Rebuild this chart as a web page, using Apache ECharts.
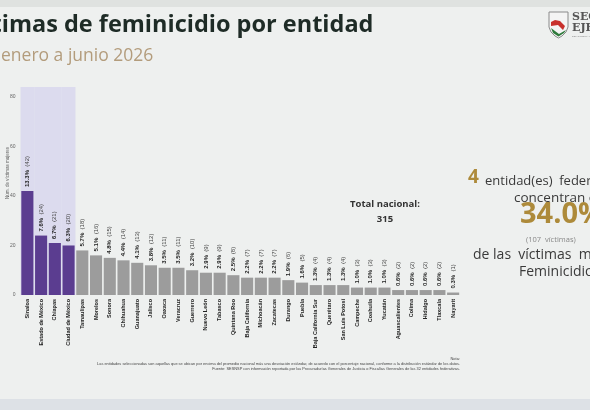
<!DOCTYPE html>
<html><head><meta charset="utf-8">
<script src="https://cdn.jsdelivr.net/npm/echarts@6/dist/echarts.min.js"></script>
<style>html,body{margin:0;padding:0;background:#eef0ef}#c{width:590px;height:410px}</style>
</head><body><div id="c"></div>
<script>
const categories = ['Sinaloa','Estado de México','Chiapas','Ciudad de México','Tamaulipas','Morelos','Sonora','Chihuahua','Guanajuato','Jalisco','Oaxaca','Veracruz','Guerrero','Nuevo León','Tabasco','Quintana Roo','Baja California','Michoacán','Zacatecas','Durango','Puebla','Baja California Sur','Querétaro','San Luis Potosí','Campeche','Coahuila','Yucatán','Aguascalientes','Colima','Hidalgo','Tlaxcala','Nayarit'];
const victims = [42,24,21,20,18,16,15,14,13,12,11,11,10,9,9,8,7,7,7,6,5,4,4,4,3,3,3,2,2,2,2,1];
const percents = ['13.3%','7.6%','6.7%','6.3%','5.7%','5.1%','4.8%','4.4%','4.1%','3.8%','3.5%','3.5%','3.2%','2.9%','2.9%','2.5%','2.2%','2.2%','2.2%','1.9%','1.6%','1.3%','1.3%','1.3%','1.0%','1.0%','1.0%','0.6%','0.6%','0.6%','0.6%','0.3%'];
const highlighted = ['Sinaloa','Estado de México','Chiapas','Ciudad de México'];
const yTicks = [0,20,40,60,80];
const yMax = 84;
const totalNacional = 315;

const chart = echarts.init(document.getElementById('c'), null, {renderer:'canvas'});
const purple = '#5b3d90', gray = '#9c9c9c';
const barData = victims.map((v,i)=>({value:v, itemStyle:{color: highlighted.includes(categories[i]) ? purple : gray}}));
const bgData = categories.map(c => highlighted.includes(c) ? yMax : null);

chart.setOption({
  backgroundColor:'#eef0ef',
  animation:false,
  grid:{left:20.5, right:130, top:87, bottom:115},
  xAxis:[{
    type:'category', data:categories,
    axisLine:{show:false}, axisTick:{show:false},
    axisLabel:{rotate:90, interval:0, fontSize:5.5, fontWeight:'bold', color:'#222', margin:4, fontFamily:'Liberation Sans'}
  },{
    type:'category', data:categories, show:false
  }],
  yAxis:{
    type:'value', min:0, max:yMax, interval:20,
    splitLine:{show:false}, axisLine:{show:false}, axisTick:{show:false},
    axisLabel:{fontSize:5, color:'#666', margin:5, showMaxLabel:false,
      formatter: v => yTicks.includes(v) ? String(v) : ''}
  },
  series:[{
    type:'bar', xAxisIndex:1, data:bgData, barWidth:'101%', silent:true, z:1,
    itemStyle:{color:'#dcdbee'}
  },{
    type:'bar', data:barData, barCategoryGap:'12%', z:3,
    label:{show:true, position:'top', rotate:90, align:'left', verticalAlign:'middle', distance:4,
      formatter: p => '{b|' + percents[p.dataIndex] + '} {n|(' + victims[p.dataIndex] + ')}',
      rich:{b:{fontSize:6, fontWeight:'bold', color:'#222', fontFamily:'Liberation Sans'}, n:{fontSize:6, color:'#444', fontFamily:'Liberation Sans'}}}
  }],
  graphic:[
    {type:'rect', shape:{x:0,y:0,width:590,height:7}, style:{fill:'#dfe2e0'}, z:-1},
    {type:'rect', shape:{x:0,y:399,width:590,height:11}, style:{fill:'#dde1e6'}, z:-1},
    {type:'text', x:-43, y:25, style:{text:'Víctimas de feminicidio por entidad', font:'bold 23.5px "Open Sans"', fill:'#1e2b26', verticalAlign:'middle'}},
    {type:'text', x:1, y:56, style:{text:'enero a junio 2026', font:'17.5px "Open Sans"', fill:'#b39c7c', verticalAlign:'middle'}},
    {type:'text', x:8, y:173, rotation:Math.PI/2, style:{text:'Núm. de víctimas mujeres', font:'4.5px "Liberation Sans"', fill:'#666', align:'center', verticalAlign:'middle'}},
    {type:'text', x:385, y:204, style:{text:'Total nacional:', font:'bold 9.5px "Open Sans"', fill:'#333', align:'center', verticalAlign:'middle'}},
    {type:'text', x:385, y:219, style:{text:String(totalNacional), font:'bold 9.5px "Open Sans"', fill:'#333', align:'center', verticalAlign:'middle'}},
    {type:'text', x:468, y:178, style:{text:String(highlighted.length), font:'bold 19px "Open Sans"', fill:'#ad8a3a', verticalAlign:'middle'}},
    {type:'text', x:485, y:181, style:{text:'entidad(es)  federativas', font:'13px "Open Sans"', fill:'#3a3a3a', verticalAlign:'middle'}},
    {type:'text', x:514, y:198, style:{text:'concentran el', font:'13.5px "Open Sans"', fill:'#3a3a3a', verticalAlign:'middle'}},
    {type:'text', x:520, y:215, style:{text:'34.0%', font:'bold 29px "Open Sans"', fill:'#ad8a3a', verticalAlign:'middle'}},
    {type:'text', x:526, y:240, style:{text:'(107  víctimas)', font:'7.5px "Open Sans"', fill:'#888', verticalAlign:'middle'}},
    {type:'text', x:473, y:255, style:{text:'de las  víctimas  mujeres de', font:'14px "Open Sans"', fill:'#3a3a3a', verticalAlign:'middle'}},
    {type:'text', x:519, y:272, style:{text:'Feminicidio', font:'14px "Open Sans"', fill:'#3a3a3a', verticalAlign:'middle'}},
    {type:'text', x:460, y:359, style:{text:'Nota:', font:'4px "Liberation Sans"', fill:'#444', align:'right', verticalAlign:'middle'}},
    {type:'text', x:460, y:364, style:{text:'Las entidades seleccionadas son aquellas que se ubican por encima del promedio nacional más una desviación estándar, de acuerdo con el porcentaje nacional, conforme a la distribución estándar de los datos.', font:'3.9px "Liberation Sans"', fill:'#444', align:'right', verticalAlign:'middle'}},
    {type:'text', x:460, y:368.5, style:{text:'Fuente: SESNSP con información reportada por las Procuradurías Generales de Justicia o Fiscalías Generales de las 32 entidades federativas.', font:'3.9px "Liberation Sans"', fill:'#444', align:'right', verticalAlign:'middle'}},
    {type:'polygon', shape:{points:[[549,12],[568,12],[568,27],[566,32],[562,36],[558.5,38],[555,36],[551,32],[549,27]]}, style:{fill:'#f4f4f4', stroke:'#8a8a8a', lineWidth:1}},
    {type:'polygon', shape:{points:[[551,22],[555,20],[560,21],[565,26],[563,30],[558,25],[551,26]]}, style:{fill:'#c8302c'}},
    {type:'polygon', shape:{points:[[551,28],[553,33],[558.5,36.5],[564,33],[566,30],[559,34]]}, style:{fill:'#2f7a3c'}},
    {type:'text', x:572, y:17, style:{text:'SECRETARIADO', font:'bold 11px "DejaVu Serif"', fill:'#555', verticalAlign:'middle'}},
    {type:'text', x:572, y:28, style:{text:'EJECUTIVO', font:'bold 11px "DejaVu Serif"', fill:'#555', verticalAlign:'middle'}},
    {type:'text', x:572, y:36, style:{text:'DEL SISTEMA NACIONAL', font:'2.5px "Liberation Sans"', fill:'#888', verticalAlign:'middle'}}
  ]
});
</script></body></html>
